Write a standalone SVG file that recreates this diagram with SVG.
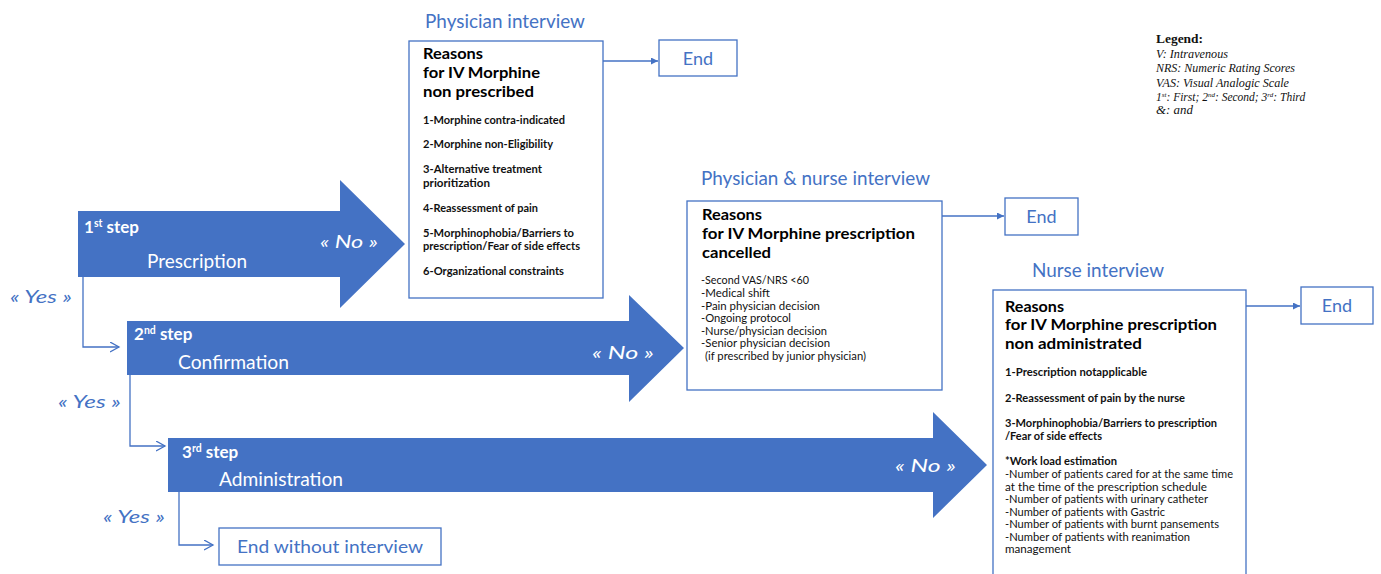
<svg xmlns="http://www.w3.org/2000/svg" width="1381" height="574" viewBox="0 0 1381 574">
<style>
.bg{fill:#ffffff}
.arrow{fill:#4472C4}
.box{fill:#ffffff;stroke:#4472C4;stroke-width:1.3}
.conn{fill:none;stroke:#4472C4;stroke-width:1.3}
.title{font-family:Lato,"Open Sans",sans-serif;font-size:18.5px;fill:#4472C4}
.head{font-family:Lato,"Open Sans",sans-serif;font-size:16px;font-weight:bold;fill:#000}
.itemb{font-family:Lato,"Open Sans",sans-serif;font-size:10.5px;font-weight:bold;fill:#111}
.item{font-family:Lato,"Open Sans",sans-serif;font-size:10.5px;fill:#111}
.step{font-family:Lato,"Open Sans",sans-serif;font-size:17px;font-weight:bold;fill:#fff}
.sub{font-family:Lato,"Open Sans",sans-serif;font-size:19px;fill:#fff}
.no{font-family:Lato,"Open Sans",sans-serif;font-size:18px;font-style:italic;fill:#fff}
.yes{font-family:Lato,"Open Sans",sans-serif;font-size:17.5px;font-style:italic;fill:#4472C4}
.end{font-family:Lato,"Open Sans",sans-serif;font-size:18px;fill:#4472C4;text-anchor:middle}
.lgb{font-family:"Liberation Serif",serif;font-size:13px;font-weight:bold;fill:#111}
.lg{font-family:"Liberation Serif",serif;font-size:11.5px;font-style:italic;fill:#111}
</style>
<defs>
<marker id="chev" markerUnits="userSpaceOnUse" markerWidth="12" markerHeight="12" refX="9" refY="5" orient="auto">
<path d="M0,0 L9,5 L0,10" fill="none" stroke="#4472C4" stroke-width="1.3"/>
</marker>
<marker id="tri" markerUnits="userSpaceOnUse" markerWidth="9" markerHeight="9" refX="7" refY="3.5" orient="auto">
<path d="M0,0 L7,3.5 L0,7 z" fill="#4472C4"/>
</marker>
</defs>
<rect class="bg" x="0" y="0" width="1381" height="574"/>

<g id="connectors">
<path class="conn" d="M83,277 V347 H119" marker-end="url(#chev)"/>
<path class="conn" d="M130,375 V446 H165" marker-end="url(#chev)"/>
<path class="conn" d="M179,492 V545 H213" marker-end="url(#chev)"/>
<path class="conn" d="M603,61 H658" marker-end="url(#tri)"/>
<path class="conn" d="M942,216 H1004" marker-end="url(#tri)"/>
<path class="conn" d="M1246,306 H1300" marker-end="url(#tri)"/>
</g>

<g id="step1">
<polygon class="arrow" points="78,211 340,211 340,180 405,244 340,308 340,277 78,277"/>
<text class="step" x="84" y="233">1<tspan font-size="10.5" dy="-6">st</tspan><tspan dy="6"> step</tspan></text>
<text class="sub" x="147" y="268" textLength="100" lengthAdjust="spacingAndGlyphs">Prescription</text>
<text class="no" x="320" y="248" textLength="58" lengthAdjust="spacingAndGlyphs">« No »</text>
</g>
<text id="yes1" class="yes" x="10" y="303" textLength="62" lengthAdjust="spacingAndGlyphs">« Yes »</text>

<g id="step2">
<polygon class="arrow" points="127,321 629,321 629,295 684,348 629,402 629,375 127,375"/>
<text class="step" x="134" y="340">2<tspan font-size="10.5" dy="-6">nd</tspan><tspan dy="6"> step</tspan></text>
<text class="sub" x="178" y="369" textLength="111" lengthAdjust="spacingAndGlyphs">Confirmation</text>
<text class="no" x="592" y="359" textLength="62" lengthAdjust="spacingAndGlyphs">« No »</text>
</g>
<text id="yes2" class="yes" x="58" y="408" textLength="63" lengthAdjust="spacingAndGlyphs">« Yes »</text>

<g id="step3">
<polygon class="arrow" points="168,438 933,438 933,412 987,465 933,518 933,492 168,492"/>
<text class="step" x="182" y="458">3<tspan font-size="10.5" dy="-6">rd</tspan><tspan dy="6"> step</tspan></text>
<text class="sub" x="219" y="486" textLength="124" lengthAdjust="spacingAndGlyphs">Administration</text>
<text class="no" x="895" y="472" textLength="61" lengthAdjust="spacingAndGlyphs">« No »</text>
</g>
<text id="yes3" class="yes" x="103" y="523" textLength="62" lengthAdjust="spacingAndGlyphs">« Yes »</text>

<g id="end-without-interview">
<rect class="box" x="219" y="528" width="222" height="37"/>
<text class="end" x="330" y="553" textLength="186" lengthAdjust="spacingAndGlyphs">End without interview</text>
</g>

<g id="physician-interview">
<text class="title" x="425" y="28" textLength="160" lengthAdjust="spacingAndGlyphs">Physician interview</text>
<rect class="box" x="409" y="41" width="194" height="257"/>
<text class="head" x="423" y="59" textLength="60" lengthAdjust="spacingAndGlyphs">Reasons</text>
<text class="head" x="423" y="78" textLength="117" lengthAdjust="spacingAndGlyphs">for IV Morphine</text>
<text class="head" x="423" y="97" textLength="111" lengthAdjust="spacingAndGlyphs">non prescribed</text>
<text class="itemb" x="423" y="124" textLength="142" lengthAdjust="spacingAndGlyphs">1-Morphine contra-indicated</text>
<text class="itemb" x="423" y="148" textLength="130" lengthAdjust="spacingAndGlyphs">2-Morphine non-Eligibility</text>
<text class="itemb" x="423" y="173" textLength="119" lengthAdjust="spacingAndGlyphs">3-Alternative treatment</text>
<text class="itemb" x="423" y="187" textLength="67" lengthAdjust="spacingAndGlyphs">prioritization</text>
<text class="itemb" x="423" y="212" textLength="115" lengthAdjust="spacingAndGlyphs">4-Reassessment of pain</text>
<text class="itemb" x="423" y="237" textLength="151" lengthAdjust="spacingAndGlyphs">5-Morphinophobia/Barriers to</text>
<text class="itemb" x="423" y="250" textLength="157" lengthAdjust="spacingAndGlyphs">prescription/Fear of side effects</text>
<text class="itemb" x="423" y="275" textLength="141" lengthAdjust="spacingAndGlyphs">6-Organizational constraints</text>
</g>
<g id="end1">
<rect class="box" x="659" y="40" width="78" height="36"/>
<text class="end" x="698" y="65">End</text>
</g>

<g id="physician-nurse-interview">
<text class="title" x="701" y="185" textLength="229" lengthAdjust="spacingAndGlyphs">Physician &amp; nurse interview</text>
<rect class="box" x="687" y="201" width="255" height="189"/>
<text class="head" x="702" y="220" textLength="60" lengthAdjust="spacingAndGlyphs">Reasons</text>
<text class="head" x="702" y="239" textLength="213" lengthAdjust="spacingAndGlyphs">for IV Morphine prescription</text>
<text class="head" x="702" y="258" textLength="69" lengthAdjust="spacingAndGlyphs">cancelled</text>
<text class="item" x="701" y="284" textLength="108" lengthAdjust="spacingAndGlyphs">-Second VAS/NRS &lt;60</text>
<text class="item" x="701" y="297" textLength="69" lengthAdjust="spacingAndGlyphs">-Medical shift</text>
<text class="item" x="701" y="309.5" textLength="119" lengthAdjust="spacingAndGlyphs">-Pain physician decision</text>
<text class="item" x="701" y="322" textLength="90" lengthAdjust="spacingAndGlyphs">-Ongoing protocol</text>
<text class="item" x="701" y="334.5" textLength="126" lengthAdjust="spacingAndGlyphs">-Nurse/physician decision</text>
<text class="item" x="701" y="347" textLength="129" lengthAdjust="spacingAndGlyphs">-Senior physician decision</text>
<text class="item" x="705" y="359.5" textLength="161" lengthAdjust="spacingAndGlyphs">(if prescribed by junior physician)</text>
</g>
<g id="end2">
<rect class="box" x="1005" y="198" width="73" height="37"/>
<text class="end" x="1041.5" y="223">End</text>
</g>

<g id="nurse-interview">
<text class="title" x="1032" y="277" textLength="132" lengthAdjust="spacingAndGlyphs">Nurse interview</text>
<rect class="box" x="993" y="290" width="253" height="300"/>
<text class="head" x="1005" y="312" textLength="59" lengthAdjust="spacingAndGlyphs">Reasons</text>
<text class="head" x="1005" y="330" textLength="212" lengthAdjust="spacingAndGlyphs">for IV Morphine prescription</text>
<text class="head" x="1005" y="349" textLength="137" lengthAdjust="spacingAndGlyphs">non administrated</text>
<text class="itemb" x="1005" y="376" textLength="142" lengthAdjust="spacingAndGlyphs">1-Prescription notapplicable</text>
<text class="itemb" x="1005" y="402" textLength="180" lengthAdjust="spacingAndGlyphs">2-Reassessment of pain by the nurse</text>
<text class="itemb" x="1005" y="427" textLength="212" lengthAdjust="spacingAndGlyphs">3-Morphinophobia/Barriers to prescription</text>
<text class="itemb" x="1005" y="440" textLength="97" lengthAdjust="spacingAndGlyphs">/Fear of side effects</text>
<text class="itemb" x="1005" y="465" textLength="112" lengthAdjust="spacingAndGlyphs">*Work load estimation</text>
<text class="item" x="1005" y="478" textLength="228" lengthAdjust="spacingAndGlyphs">-Number of patients cared for at the same time</text>
<text class="item" x="1005" y="490.5" textLength="202" lengthAdjust="spacingAndGlyphs">at the time of the prescription schedule</text>
<text class="item" x="1005" y="503" textLength="203" lengthAdjust="spacingAndGlyphs">-Number of patients with urinary catheter</text>
<text class="item" x="1005" y="515.5" textLength="160" lengthAdjust="spacingAndGlyphs">-Number of patients with Gastric</text>
<text class="item" x="1005" y="528" textLength="214" lengthAdjust="spacingAndGlyphs">-Number of patients with burnt pansements</text>
<text class="item" x="1005" y="540.5" textLength="185" lengthAdjust="spacingAndGlyphs">-Number of patients with reanimation</text>
<text class="item" x="1005" y="553" textLength="66" lengthAdjust="spacingAndGlyphs">management</text>
</g>
<g id="end3">
<rect class="box" x="1301" y="287" width="72" height="37"/>
<text class="end" x="1337" y="312">End</text>
</g>

<g id="legend">
<text class="lgb" x="1156" y="43" textLength="47" lengthAdjust="spacingAndGlyphs">Legend:</text>
<text class="lg" x="1156" y="58" textLength="72" lengthAdjust="spacingAndGlyphs">V: Intravenous</text>
<text class="lg" x="1156" y="72" textLength="139" lengthAdjust="spacingAndGlyphs">NRS: Numeric Rating Scores</text>
<text class="lg" x="1156" y="87" textLength="133" lengthAdjust="spacingAndGlyphs">VAS: Visual Analogic Scale</text>
<text class="lg" x="1156" y="101">1<tspan font-size="7" dy="-4">st</tspan><tspan dy="4">: First; 2</tspan><tspan font-size="7" dy="-4">nd</tspan><tspan dy="4">: Second; 3</tspan><tspan font-size="7" dy="-4">rd</tspan><tspan dy="4">: Third</tspan></text>
<text class="lg" x="1156" y="114" textLength="37" lengthAdjust="spacingAndGlyphs">&amp;: and</text>
</g>
</svg>
